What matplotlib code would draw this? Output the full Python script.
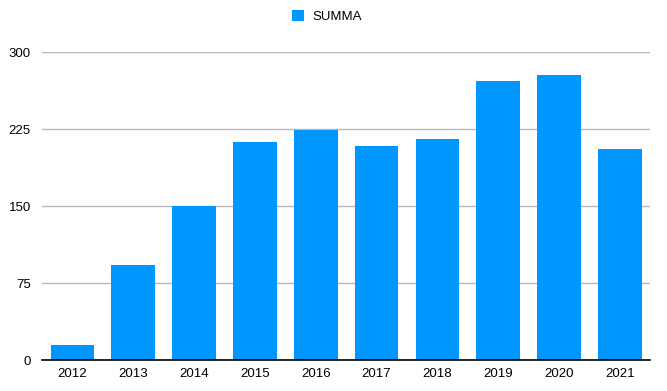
import matplotlib.pyplot as plt

plt.rcParams['font.family'] = ['Liberation Sans', 'DejaVu Sans']

# data
years = ['2012', '2013', '2014', '2015', '2016', '2017', '2018', '2019', '2020', '2021']
summa = [15, 93, 150, 212, 224, 208, 215, 272, 278, 206]

fig = plt.figure(figsize=(6.67, 3.91), dpi=100)
ax = fig.add_axes([0.063, 0.079, 0.912, 0.788])

bars = ax.bar(years, summa, width=0.72, color='#0096ff', label='SUMMA', zorder=3)

ax.set_xlim(-0.5, 9.5)
ax.set_ylim(0, 300)
ax.set_yticks([0, 75, 150, 225, 300])
ax.yaxis.grid(True, color='#b8b8b8', linewidth=1, zorder=0)

for side in ['top', 'right', 'left']:
    ax.spines[side].set_visible(False)
ax.spines['bottom'].set_color('black')
ax.spines['bottom'].set_linewidth(1.2)
ax.spines['bottom'].set_zorder(4)

ax.tick_params(axis='both', length=0, labelsize=9.5, colors='black')
ax.tick_params(axis='y', pad=8)
ax.tick_params(axis='x', pad=6)

fig.legend(handles=[bars], labels=['SUMMA'], loc='center', bbox_to_anchor=(0.49, 0.958),
           frameon=False, fontsize=9.5, handlelength=0.9, handleheight=0.9,
           handletextpad=0.6)

plt.savefig('out.png', dpi=100)
